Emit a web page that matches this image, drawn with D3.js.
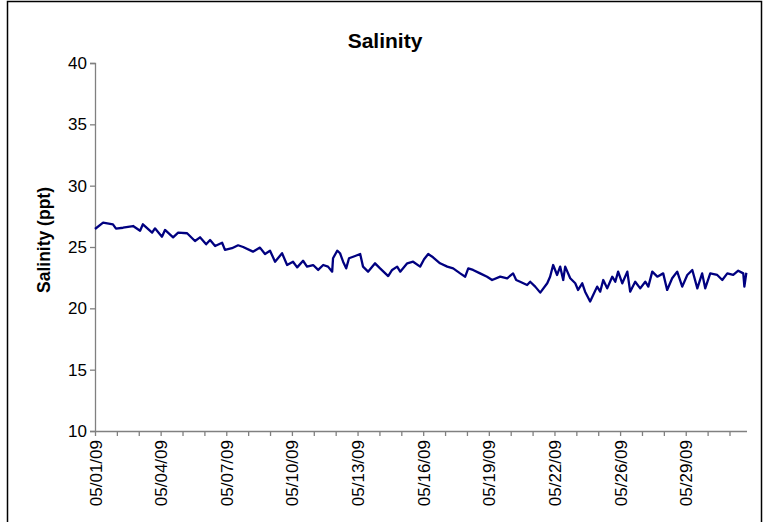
<!DOCTYPE html>
<html><head><meta charset="utf-8">
<script src="https://cdn.jsdelivr.net/npm/d3@7"></script>
<style>body{margin:0;background:#fff}svg{display:block}text{font-family:"Liberation Sans",Arial,sans-serif}</style>
</head><body>
<script>
// day position along the category axis (days since 05/01/09)
const dayPos = [0.00,0.37,0.82,0.96,1.28,1.74,2.06,2.19,2.61,2.74,3.06,3.20,3.57,3.80,4.21,4.57,4.80,5.08,5.26,5.49,5.81,5.94,6.26,6.54,6.77,7.22,7.54,7.77,8.00,8.23,8.55,8.78,9.05,9.24,9.51,9.69,9.97,10.20,10.43,10.65,10.84,10.88,11.07,11.20,11.34,11.48,11.61,11.89,12.12,12.25,12.48,12.80,13.03,13.40,13.58,13.81,13.95,14.27,14.54,14.86,15.04,15.23,15.45,15.77,16.10,16.37,16.69,16.92,17.06,17.28,17.60,17.92,18.15,18.52,18.84,19.11,19.25,19.43,19.75,19.89,20.12,20.35,20.67,20.80,20.94,21.12,21.26,21.40,21.49,21.72,21.95,22.08,22.27,22.40,22.63,22.77,22.95,23.09,23.23,23.41,23.64,23.78,23.91,24.10,24.33,24.46,24.69,24.92,25.15,25.29,25.47,25.70,25.97,26.15,26.38,26.61,26.84,27.07,27.30,27.53,27.75,27.89,28.12,28.44,28.67,28.90,29.17,29.40,29.63,29.68,29.77];
const salinity = [26.47,26.98,26.85,26.50,26.57,26.71,26.33,26.85,26.17,26.52,25.84,26.39,25.79,26.17,26.12,25.49,25.79,25.22,25.57,25.08,25.35,24.76,24.90,25.14,25.00,24.62,24.95,24.43,24.70,23.80,24.49,23.53,23.80,23.34,23.88,23.40,23.53,23.13,23.53,23.40,22.99,24.08,24.70,24.49,23.80,23.26,24.08,24.27,24.43,23.40,22.99,23.67,23.26,22.63,23.13,23.40,22.99,23.67,23.80,23.40,24.00,24.43,24.16,23.67,23.40,23.26,22.85,22.58,23.26,23.13,22.85,22.58,22.31,22.58,22.45,22.85,22.31,22.17,21.90,22.17,21.77,21.28,22.04,22.58,23.53,22.72,23.40,22.31,23.40,22.45,22.04,21.50,22.04,21.36,20.55,21.09,21.77,21.36,22.31,21.63,22.58,22.17,22.99,22.04,22.99,21.36,22.17,21.63,22.17,21.77,22.99,22.58,22.85,21.50,22.45,22.99,21.77,22.72,23.13,21.63,22.85,21.63,22.85,22.72,22.31,22.85,22.72,23.07,22.85,21.77,22.90];
const yTicks = [10,15,20,25,30,35,40];
const xLabelPos = [0,3,6,9,12,15,18,21,24,27];
const xLabels = ["05/01/09","05/04/09","05/07/09","05/10/09","05/13/09","05/16/09","05/19/09","05/22/09","05/26/09","05/29/09"];
const xMinorTicks = d3.range(0,30);

const W=767,H=522;
const svg=d3.select("body").append("svg").attr("width",W).attr("height",H);
svg.append("rect").attr("x",7.5).attr("y",1.5).attr("width",754).attr("height",H+10)
  .attr("fill","#fff").attr("stroke","#000").attr("stroke-width",1.5);

const x=d3.scaleLinear().domain([0,29.8]).range([95,747]);
const y=d3.scaleLinear().domain([10,40]).range([431,63]);

// y axis
const ya=svg.append("g").attr("transform","translate(95,0)")
  .call(d3.axisLeft(y).tickValues(yTicks).tickSize(5).tickPadding(3));
ya.select(".domain").attr("stroke","#808080").attr("stroke-width",1.3);
ya.selectAll(".tick line").attr("stroke","#808080").attr("stroke-width",1.3);
ya.selectAll(".tick text").attr("font-size",17).attr("fill","#000").attr("font-family","Liberation Sans, Arial");

// x axis
const xa=svg.append("g").attr("transform","translate(0,431)")
  .call(d3.axisBottom(x).tickValues(xMinorTicks).tickSize(5).tickFormat(""));
xa.select(".domain").attr("stroke","#808080").attr("stroke-width",1.3).attr("d","M95,0.5H747");
xa.selectAll(".tick line").attr("stroke","#808080").attr("stroke-width",1.3);

svg.append("g").selectAll("text").data(xLabelPos).join("text")
  .attr("transform",d=>`translate(${x(d)+6.5},440) rotate(-90)`)
  .attr("text-anchor","end").attr("font-size",17).attr("fill","#000")
  .text((d,i)=>xLabels[i]);

// line
const line=d3.line().x(d=>x(d[0])).y(d=>y(d[1]));
svg.append("path").datum(dayPos.map((d,i)=>[d,salinity[i]]))
  .attr("d",line).attr("fill","none").attr("stroke","#000080").attr("stroke-width",2.3).attr("stroke-linejoin","round");

// titles
svg.append("text").attr("x",385).attr("y",48).attr("text-anchor","middle")
  .attr("font-size",21).attr("font-weight","bold").text("Salinity");
svg.append("text").attr("transform","translate(50,240) rotate(-90)").attr("text-anchor","middle")
  .attr("font-size",17.5).attr("font-weight","bold").text("Salinity (ppt)");
</script>
</body></html>
